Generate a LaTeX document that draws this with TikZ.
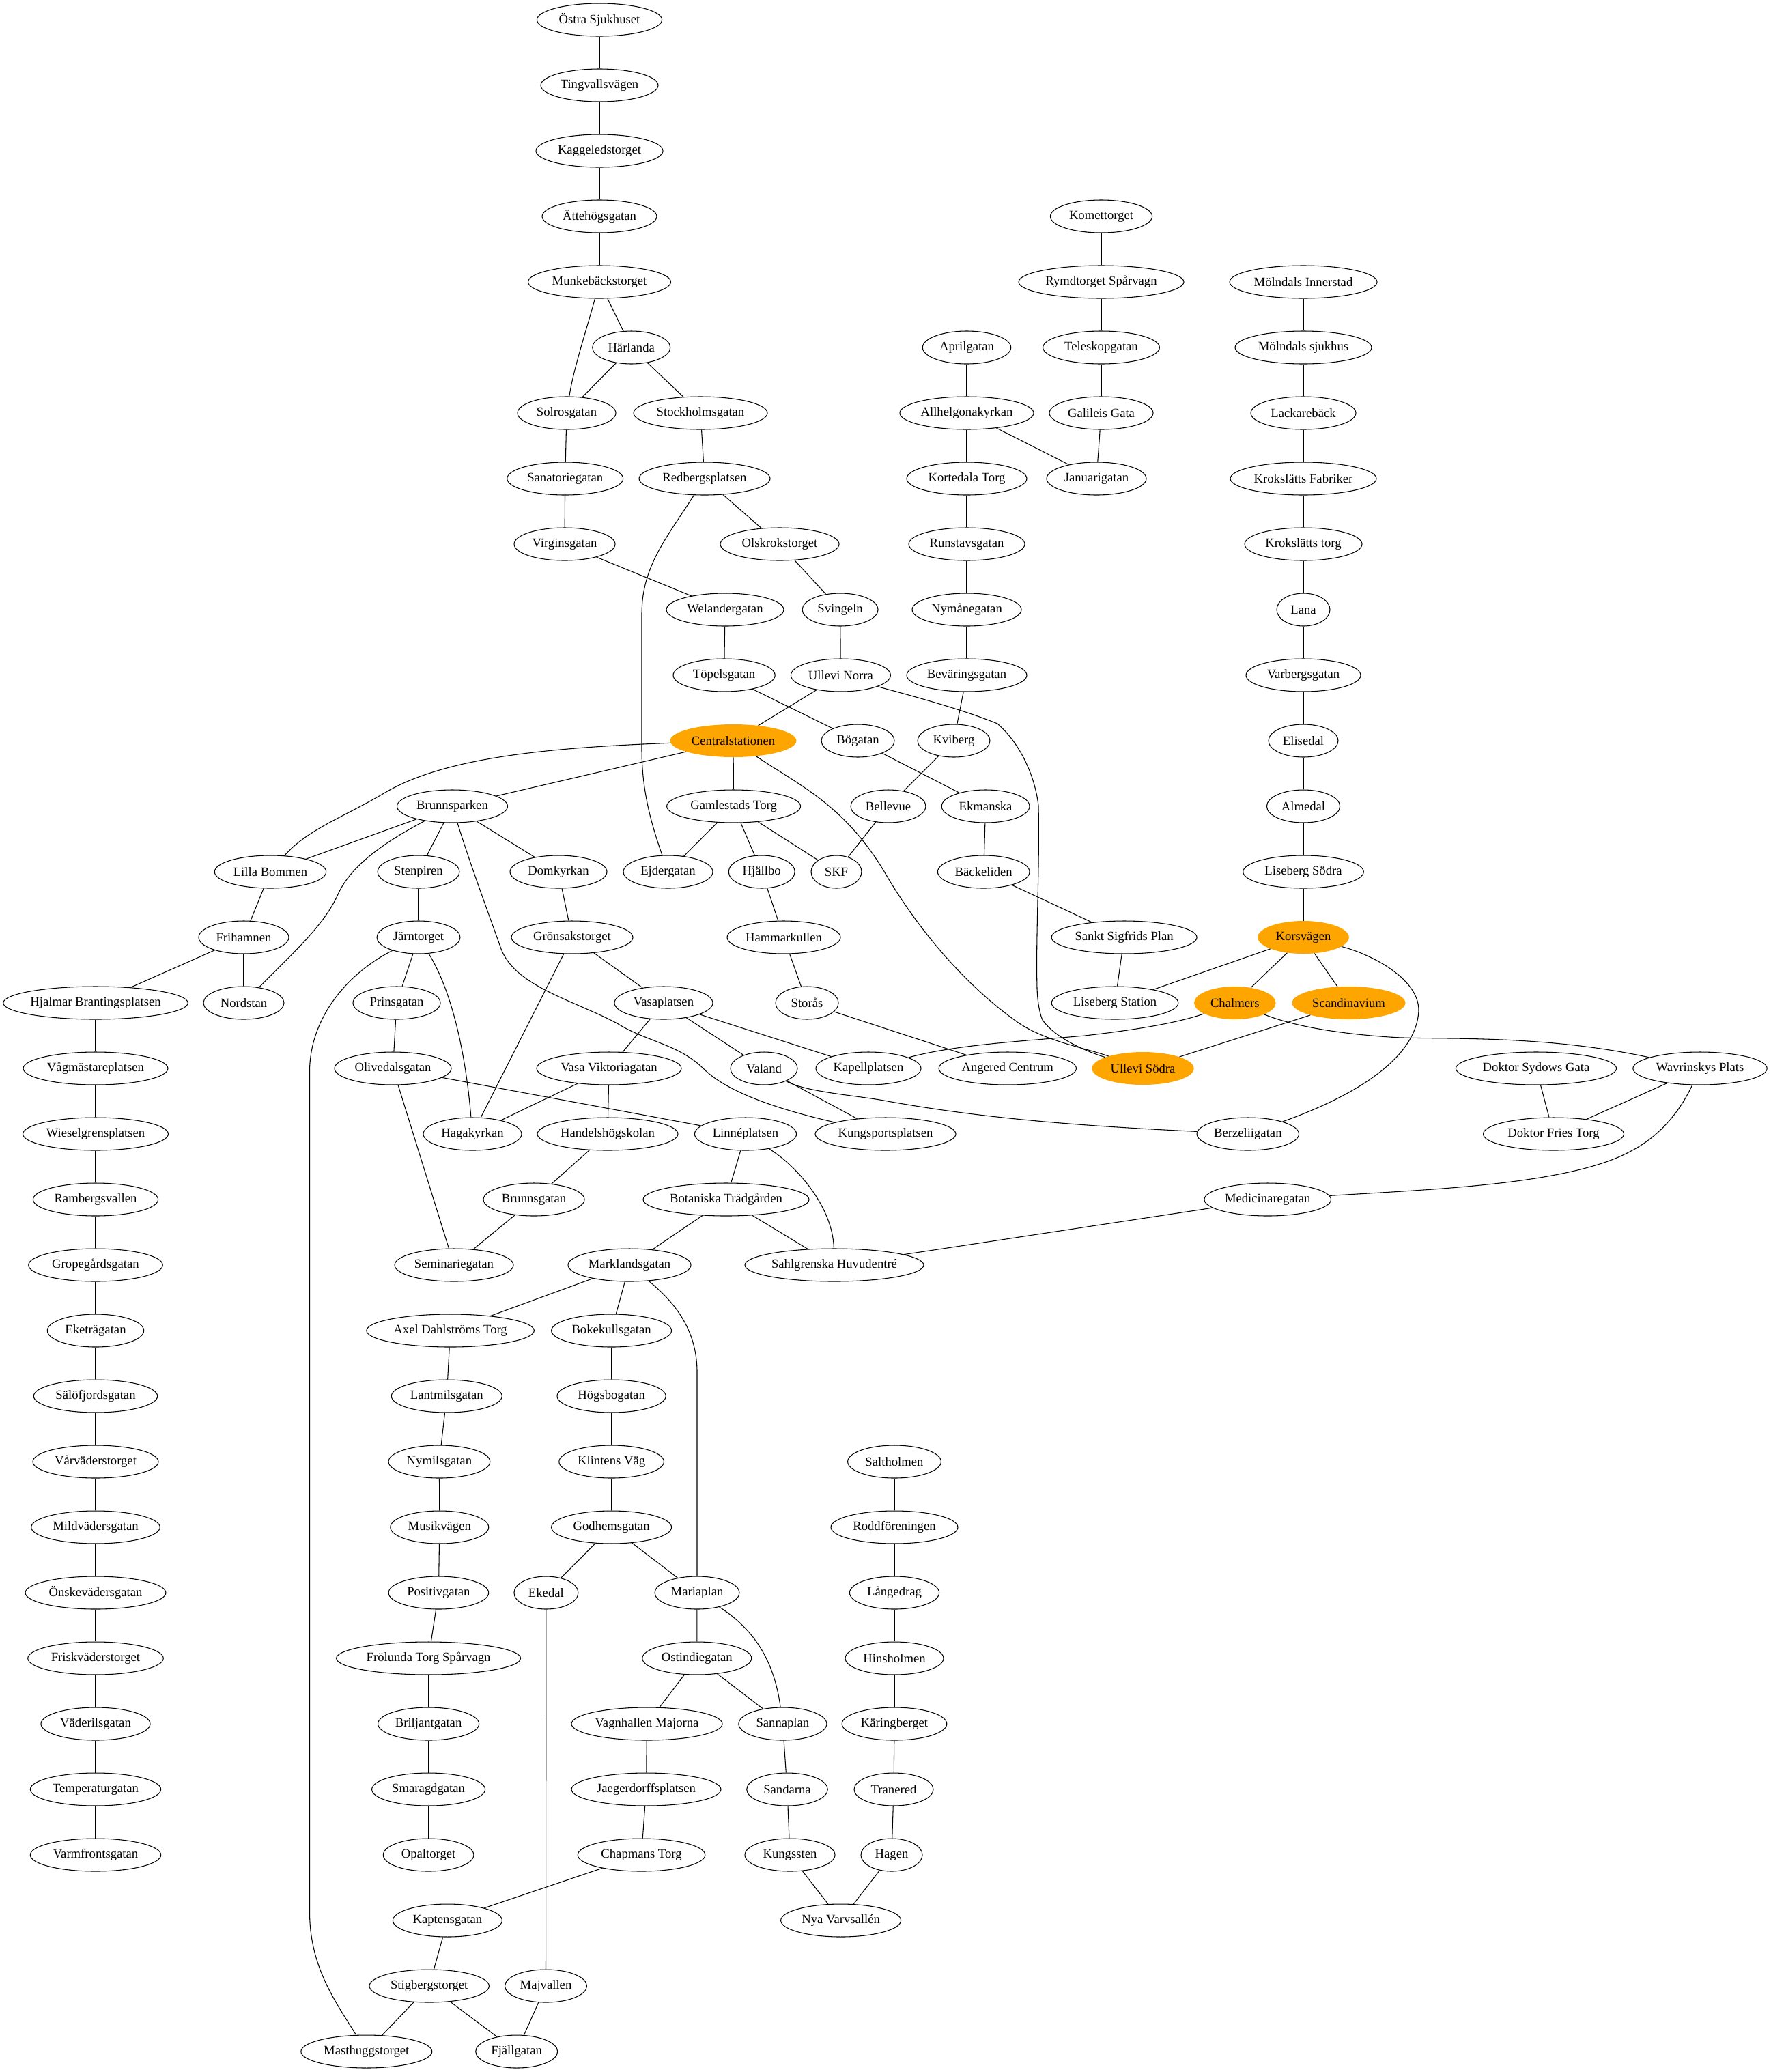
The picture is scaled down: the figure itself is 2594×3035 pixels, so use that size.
\documentclass[tikz,border=0pt]{standalone}
\usepackage{fontspec}
\setmainfont{Liberation Serif}
\usetikzlibrary{shapes.geometric}
\definecolor{hub}{HTML}{FFA500}
\tikzset{
  stn/.style={ellipse,draw=black,line width=0.8pt,inner sep=0pt,minimum height=36pt,font=\fontsize{14}{16}\selectfont},
  hubstn/.style={ellipse,fill=hub,inner sep=0pt,minimum height=36pt,font=\fontsize{14}{16}\selectfont},
  link/.style={draw=black,line width=0.8pt}
}
\newcommand{\stnnode}[5]{\node[stn,minimum width={2*#4*0.75pt}] (#1) at ({#2},{29+96*#3}) {#5};}
\newcommand{\hubnode}[5]{\node[hubstn,minimum width={2*#4*0.75pt}] (#1) at ({#2},{29+96*#3}) {#5};}
\newcommand{\lnk}[2]{\draw[link] (#1) -- (#2);}
\begin{document}
\begin{tikzpicture}[x=0.75pt,y=-0.75pt]
\useasboundingbox (0,0) rectangle (2594,3035);
% left column
\stnnode{hjal}{140}{15}{135}{Hjalmar Brantingsplatsen}
\stnnode{vag}{140}{16}{106}{Vågmästareplatsen}
\stnnode{wies}{140}{17}{106.5}{Wieselgrensplatsen}
\stnnode{ramb}{140}{18}{91.6}{Rambergsvallen}
\stnnode{grop}{140}{19}{98.3}{Gropegårdsgatan}
\stnnode{eket}{140}{20}{70.7}{Eketrägatan}
\stnnode{salo}{140}{21}{90.7}{Sälöfjordsgatan}
\stnnode{varv}{140}{22}{92}{Vårväderstorget}
\stnnode{mild}{140}{23}{94.3}{Mildvädersgatan}
\stnnode{onsk}{140}{24}{103}{Önskevädersgatan}
\stnnode{fris}{140}{25}{99.3}{Friskväderstorget}
\stnnode{vad}{140}{26}{80}{Väderilsgatan}
\stnnode{temp}{140}{27}{95.7}{Temperaturgatan}
\stnnode{varm}{140}{28}{95.7}{Varmfrontsgatan}
% top column
\stnnode{ostra}{878}{0}{91.6}{Östra Sjukhuset}
\stnnode{ting}{878}{1}{86}{Tingvallsvägen}
\stnnode{kagg}{878}{2}{93}{Kaggeledstorget}
\stnnode{atte}{878}{3}{84}{Ättehögsgatan}
\stnnode{munk}{878}{4}{104.5}{Munkebäckstorget}
\stnnode{harl}{924.7}{5}{57}{Härlanda}
\stnnode{solr}{830}{6}{72}{Solrosgatan}
\stnnode{stoc}{1026}{6}{98}{Stockholmsgatan}
\stnnode{sana}{827.7}{7}{85}{Sanatoriegatan}
\stnnode{redb}{1032}{7}{96}{Redbergsplatsen}
\stnnode{virg}{827}{8}{74}{Virginsgatan}
\stnnode{olsk}{1142}{8}{87}{Olskrokstorget}
\stnnode{wela}{1062}{9}{86}{Welandergatan}
\stnnode{svin}{1230.6}{9}{55.5}{Svingeln}
\stnnode{tope}{1060.6}{10}{74.6}{Töpelsgatan}
\stnnode{ulln}{1231.4}{10}{73}{Ullevi Norra}
% upper right
\stnnode{kome}{1613}{3}{74.6}{Komettorget}
\stnnode{rymd}{1613}{4}{121}{Rymdtorget Spårvagn}
\stnnode{tele}{1613}{5}{85.4}{Teleskopgatan}
\stnnode{gali}{1613}{6}{76}{Galileis Gata}
\stnnode{janu}{1606}{7}{73}{Januarigatan}
\stnnode{apri}{1416}{5}{64.7}{Aprilgatan}
\stnnode{allh}{1416}{6}{98}{Allhelgonakyrkan}
\stnnode{kort}{1416}{7}{88}{Kortedala Torg}
\stnnode{runs}{1416}{8}{85}{Runstavsgatan}
\stnnode{nyma}{1416}{9}{80}{Nymånegatan}
\stnnode{beva}{1416}{10}{88}{Beväringsgatan}
\stnnode{moli}{1909}{4}{108}{Mölndals Innerstad}
\stnnode{mols}{1909}{5}{100}{Mölndals sjukhus}
\stnnode{lack}{1909}{6}{77}{Lackarebäck}
\stnnode{krof}{1909}{7}{107}{Krokslätts Fabriker}
\stnnode{krot}{1909}{8}{86}{Krokslätts torg}
\stnnode{lana}{1909}{9}{39}{Lana}
\stnnode{varb}{1909}{10}{84}{Varbergsgatan}
% row 11
\hubnode{cent}{1074}{11}{92.5}{Centralstationen}
\stnnode{boga}{1256.5}{11}{53.5}{Bögatan}
\stnnode{kvib}{1397}{11}{53}{Kviberg}
\stnnode{elis}{1909}{11}{51}{Elisedal}
% row 12
\stnnode{brun}{662.5}{12}{81}{Brunnsparken}
\stnnode{gaml}{1074.6}{12}{98}{Gamlestads Torg}
\stnnode{bell}{1301}{12}{55}{Bellevue}
\stnnode{ekma}{1443.6}{12}{64.4}{Ekmanska}
\stnnode{alme}{1909}{12}{53.6}{Almedal}
% row 13
\stnnode{lill}{396}{13}{81.7}{Lilla Bommen}
\stnnode{sten}{613}{13}{60}{Stenpiren}
\stnnode{domk}{818}{13}{71}{Domkyrkan}
\stnnode{ejde}{978.5}{13}{65.5}{Ejdergatan}
\stnnode{hjal2}{1115.7}{13}{48.5}{Hjällbo}
\stnnode{skf}{1225}{13}{37}{SKF}
\stnnode{back}{1440.7}{13}{67.3}{Bäckeliden}
\stnnode{liss}{1909}{13}{88.3}{Liseberg Södra}
% row 14
\stnnode{frih}{357}{14}{66}{Frihamnen}
\stnnode{jarn}{613}{14}{61}{Järntorget}
\stnnode{gron}{838}{14}{89}{Grönsakstorget}
\stnnode{hamm}{1148}{14}{83}{Hammarkullen}
\stnnode{sank}{1646.6}{14}{106.5}{Sankt Sigfrids Plan}
\hubnode{kors}{1909}{14}{66.8}{Korsvägen}
% row 15
\stnnode{nord}{357}{15}{59}{Nordstan}
\stnnode{prin}{581}{15}{64}{Prinsgatan}
\stnnode{vasa}{972}{15}{72}{Vasaplatsen}
\stnnode{stor}{1182}{15}{46}{Storås}
\stnnode{list}{1633}{15}{92.8}{Liseberg Station}
\hubnode{chal}{1808.8}{15}{59.8}{Chalmers}
\hubnode{scan}{1975.5}{15}{83}{Scandinavium}
% row 16
\stnnode{oliv}{575.5}{16}{85.5}{Olivedalsgatan}
\stnnode{vavi}{892}{16}{106}{Vasa Viktoriagatan}
\stnnode{vala}{1119}{16}{49}{Valand}
\stnnode{kape}{1272}{16}{77}{Kapellplatsen}
\stnnode{ange}{1475.8}{16}{100.7}{Angered Centrum}
\hubnode{ulls}{1674}{16}{74.7}{Ullevi Södra}
\stnnode{dosy}{2250}{16}{117.6}{Doktor Sydows Gata}
\stnnode{wavr}{2490}{16}{98.2}{Wavrinskys Plats}
% row 17
\stnnode{haga}{692}{17}{72}{Hagakyrkan}
\stnnode{hand}{890}{17}{103}{Handelshögskolan}
\stnnode{linn}{1092}{17}{74.6}{Linnéplatsen}
\stnnode{kung}{1297}{17}{103}{Kungsportsplatsen}
\stnnode{berz}{1827.8}{17}{74.7}{Berzeliigatan}
\stnnode{dofr}{2275.5}{17}{103}{Doktor Fries Torg}
% row 18
\stnnode{brgt}{782}{18}{74}{Brunnsgatan}
\stnnode{bota}{1063.5}{18}{121.5}{Botaniska Trädgården}
\stnnode{medi}{1856.7}{18}{92.8}{Medicinaregatan}
% row 19
\stnnode{semi}{665}{19}{87}{Seminariegatan}
\stnnode{mark}{922}{19}{90}{Marklandsgatan}
\stnnode{sahl}{1222}{19}{131}{Sahlgrenska Huvudentré}
% lower
\stnnode{axel}{659.6}{20}{122.8}{Axel Dahlströms Torg}
\stnnode{boke}{895.6}{20}{88}{Bokekullsgatan}
\stnnode{lant}{654.3}{21}{81}{Lantmilsgatan}
\stnnode{hogs}{895.6}{21}{79.6}{Högsbogatan}
\stnnode{nymi}{643.4}{22}{74.4}{Nymilsgatan}
\stnnode{klin}{895.6}{22}{76.8}{Klintens Väg}
\stnnode{salt}{1310}{22}{68.4}{Saltholmen}
\stnnode{musi}{643.8}{23}{72}{Musikvägen}
\stnnode{godh}{895.6}{23}{88}{Godhemsgatan}
\stnnode{rodd}{1310}{23}{93}{Roddföreningen}
\stnnode{posi}{642.4}{24}{73.3}{Positivgatan}
\stnnode{eked}{799.9}{24}{47}{Ekedal}
\stnnode{mari}{1021}{24}{62}{Mariaplan}
\stnnode{lang}{1310}{24}{65.6}{Långedrag}
\stnnode{frol}{627.6}{25}{135}{Frölunda Torg Spårvagn}
\stnnode{osti}{1020.8}{25}{80}{Ostindiegatan}
\stnnode{hins}{1310}{25}{72}{Hinsholmen}
\stnnode{bril}{627.6}{26}{74}{Briljantgatan}
\stnnode{vagn}{947.5}{26}{110.5}{Vagnhallen Majorna}
\stnnode{sann}{1146.4}{26}{64.5}{Sannaplan}
\stnnode{kari}{1310}{26}{76.8}{Käringberget}
\stnnode{smar}{627.6}{27}{83}{Smaragdgatan}
\stnnode{jaeg}{946.5}{27}{109.5}{Jaegerdorffsplatsen}
\stnnode{sand}{1153}{27}{59.3}{Sandarna}
\stnnode{tran}{1309}{27}{58}{Tranered}
\stnnode{opal}{627.6}{28}{66.3}{Opaltorget}
\stnnode{chap}{939.5}{28}{93.3}{Chapmans Torg}
\stnnode{kngs}{1157}{28}{66}{Kungssten}
\stnnode{hage}{1306}{28}{45}{Hagen}
\stnnode{kapt}{655.4}{29}{80}{Kaptensgatan}
\stnnode{nyav}{1231.6}{29}{88}{Nya Varvsallén}
\stnnode{stig}{628.7}{30}{87.7}{Stigbergstorget}
\stnnode{majv}{799.5}{30}{60}{Majvallen}
\stnnode{mast}{536.8}{31}{96}{Masthuggstorget}
\stnnode{fjal}{756.7}{31}{60}{Fjällgatan}
% straight connectors
\lnk{hjal}{vag}\lnk{vag}{wies}\lnk{wies}{ramb}\lnk{ramb}{grop}\lnk{grop}{eket}\lnk{eket}{salo}\lnk{salo}{varv}\lnk{varv}{mild}\lnk{mild}{onsk}\lnk{onsk}{fris}\lnk{fris}{vad}\lnk{vad}{temp}\lnk{temp}{varm}
\lnk{ostra}{ting}\lnk{ting}{kagg}\lnk{kagg}{atte}\lnk{atte}{munk}\lnk{munk}{harl}\lnk{harl}{solr}\lnk{harl}{stoc}\lnk{solr}{sana}\lnk{sana}{virg}\lnk{virg}{wela}\lnk{wela}{tope}\lnk{tope}{boga}\lnk{boga}{ekma}\lnk{ekma}{back}\lnk{back}{sank}\lnk{sank}{list}
\lnk{stoc}{redb}\lnk{redb}{olsk}\lnk{olsk}{svin}\lnk{svin}{ulln}\lnk{ulln}{cent}\lnk{cent}{brun}\lnk{cent}{gaml}\lnk{gaml}{ejde}\lnk{gaml}{hjal2}\lnk{gaml}{skf}\lnk{hjal2}{hamm}\lnk{hamm}{stor}\lnk{stor}{ange}
\lnk{kome}{rymd}\lnk{rymd}{tele}\lnk{tele}{gali}\lnk{gali}{janu}\lnk{apri}{allh}\lnk{allh}{janu}\lnk{allh}{kort}\lnk{kort}{runs}\lnk{runs}{nyma}\lnk{nyma}{beva}\lnk{beva}{kvib}\lnk{kvib}{bell}\lnk{bell}{skf}
\lnk{moli}{mols}\lnk{mols}{lack}\lnk{lack}{krof}\lnk{krof}{krot}\lnk{krot}{lana}\lnk{lana}{varb}\lnk{varb}{elis}\lnk{elis}{alme}\lnk{alme}{liss}\lnk{liss}{kors}\lnk{kors}{list}\lnk{kors}{chal}\lnk{kors}{scan}\lnk{scan}{ulls}
\lnk{brun}{lill}\lnk{brun}{sten}\lnk{brun}{domk}\lnk{sten}{jarn}\lnk{domk}{gron}\lnk{gron}{haga}\lnk{gron}{vasa}\lnk{vasa}{vavi}\lnk{vasa}{vala}\lnk{vasa}{kape}\lnk{vavi}{haga}\lnk{vavi}{hand}\lnk{vala}{kung}
\lnk{jarn}{prin}\lnk{prin}{oliv}\lnk{oliv}{semi}\lnk{oliv}{linn}\lnk{hand}{brgt}\lnk{brgt}{semi}\lnk{linn}{bota}\lnk{bota}{mark}\lnk{bota}{sahl}\lnk{sahl}{medi}\lnk{mark}{axel}\lnk{mark}{boke}
\lnk{lill}{frih}\lnk{frih}{hjal}\lnk{frih}{nord}
\lnk{axel}{lant}\lnk{lant}{nymi}\lnk{nymi}{musi}\lnk{musi}{posi}\lnk{posi}{frol}\lnk{frol}{bril}\lnk{bril}{smar}\lnk{smar}{opal}
\lnk{boke}{hogs}\lnk{hogs}{klin}\lnk{klin}{godh}\lnk{godh}{eked}\lnk{godh}{mari}\lnk{eked}{majv}\lnk{majv}{fjal}\lnk{mari}{osti}\lnk{osti}{vagn}\lnk{osti}{sann}\lnk{vagn}{jaeg}\lnk{jaeg}{chap}\lnk{chap}{kapt}\lnk{kapt}{stig}\lnk{stig}{mast}\lnk{stig}{fjal}
\lnk{sann}{sand}\lnk{sand}{kngs}\lnk{kngs}{nyav}\lnk{hage}{nyav}\lnk{salt}{rodd}\lnk{rodd}{lang}\lnk{lang}{hins}\lnk{hins}{kari}\lnk{kari}{tran}\lnk{tran}{hage}
\lnk{dosy}{dofr}\lnk{wavr}{dofr}
% curved connectors
\draw[link] (cent) .. controls (800,1095) and (650,1110) .. (564,1161) .. controls (505,1196) and (450,1215) .. (lill);
\draw[link] (cent) .. controls (1170,1150) and (1240,1180) .. (1300,1285) .. controls (1345,1360) and (1410,1440) .. (1490,1497) .. controls (1530,1525) and (1590,1535) .. (ulls);
\draw[link] (ulln) .. controls (1300,1010) and (1400,1035) .. (1461,1060) .. controls (1490,1085) and (1515,1130) .. (1521,1180) .. controls (1523,1270) and (1517,1370) .. (1519,1448) .. controls (1520,1475) and (1525,1490) .. (1527,1494) .. controls (1545,1520) and (1590,1540) .. (ulls);
\draw[link] (redb) .. controls (975,790) and (940,830) .. (940,900) -- (940,1098) .. controls (940,1160) and (955,1210) .. (ejde);
\draw[link] (brun) .. controls (570,1230) and (515,1265) .. (495,1310) .. controls (475,1355) and (430,1395) .. (nord);
\draw[link] (brun) .. controls (690,1270) and (720,1350) .. (734,1390) .. controls (755,1445) and (840,1465) .. (904,1499) .. controls (945,1525) and (995,1530) .. (1030,1565) .. controls (1065,1600) and (1140,1625) .. (kung);
\draw[link] (jarn) .. controls (510,1425) and (453.5,1490) .. (453.5,1570) -- (453.5,2800) .. controls (453.5,2880) and (490,2930) .. (mast);
\draw[link] (jarn) .. controls (655,1440) and (680,1520) .. (haga);
\draw[link] (mark) .. controls (985,1905) and (1021,1945) .. (1021,2010) -- (mari);
\draw[link] (mari) .. controls (1110,2390) and (1135,2440) .. (sann);
\draw[link] (linn) .. controls (1170,1710) and (1220,1770) .. (sahl);
\draw[link] (kors) .. controls (2000,1395) and (2078,1430) .. (2078,1480) .. controls (2075,1550) and (1985,1605) .. (berz);
\draw[link] (chal) .. controls (1720,1500) and (1650,1510) .. (1589,1517) .. controls (1500,1525) and (1400,1530) .. (kape);
\draw[link] (chal) .. controls (1900,1505) and (1970,1515) .. (2043,1519.5) .. controls (2110,1523) and (2260,1515) .. (wavr);
\draw[link] (vala) .. controls (1180,1600) and (1260,1605) .. (1300,1613) .. controls (1450,1640) and (1600,1650) .. (berz);
\draw[link] (wavr) .. controls (2455,1640) and (2420,1670) .. (2389,1686) .. controls (2300,1735) and (2100,1742) .. (medi);
\draw[link] (munk) .. controls (860,480) and (840,540) .. (solr);
\end{tikzpicture}
\end{document}
